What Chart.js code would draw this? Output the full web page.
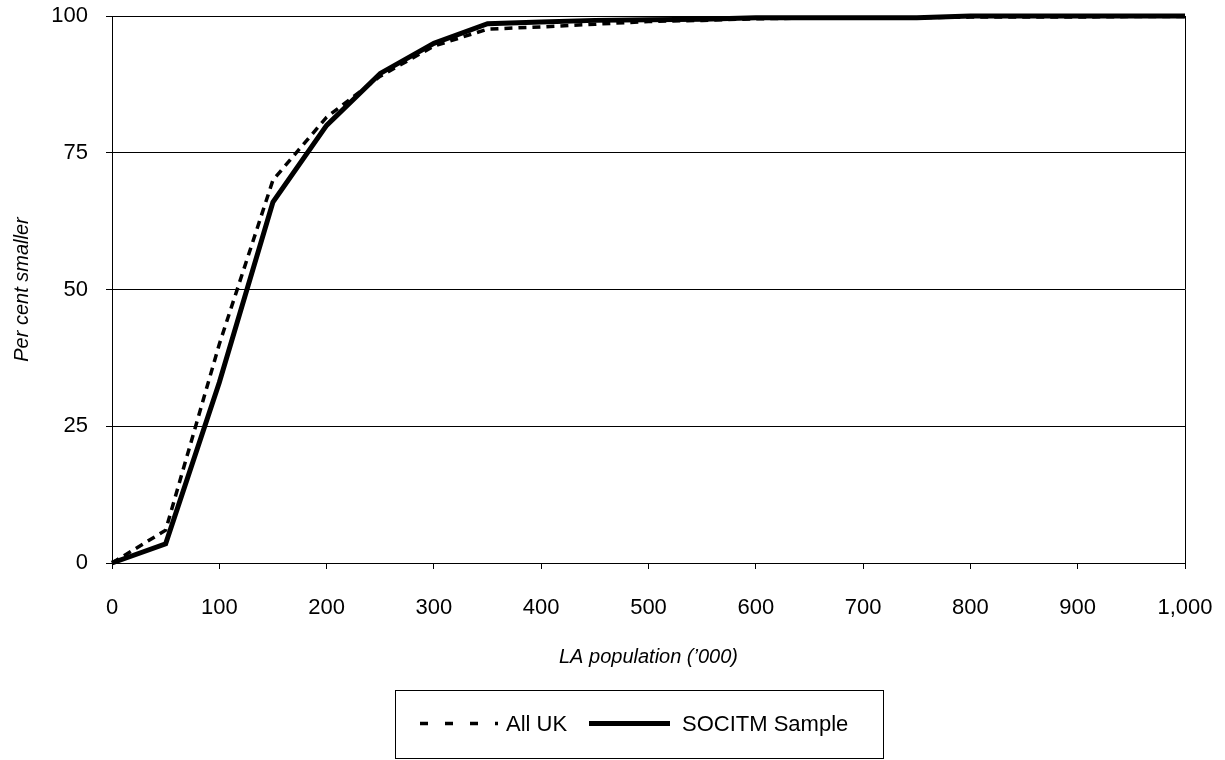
<!DOCTYPE html>
<html>
<head>
<meta charset="utf-8">
<script src="https://cdn.jsdelivr.net/npm/chart.js@4"></script>
<style>html,body{margin:0;padding:0;background:#fff;}</style>
</head>
<body>
<canvas id="c" width="1225" height="760"></canvas>
<script>
// LA population ('000)
const populations = [0, 50, 100, 150, 200, 250, 300, 350, 400, 450, 500, 550, 600, 650, 700, 750, 800, 850, 900, 950, 1000];
// Per cent smaller – All UK
const allUK = [0, 6, 40, 70, 81.5, 89, 94.5, 97.6, 98, 98.5, 99, 99.2, 99.5, 99.6, 99.7, 99.7, 99.8, 99.8, 99.8, 99.9, 99.9];
// Per cent smaller – SOCITM Sample
const socitm = [0, 3.5, 33, 66, 80, 89.5, 95, 98.6, 98.9, 99.2, 99.3, 99.4, 99.7, 99.7, 99.7, 99.7, 100, 100, 100, 100, 100];
// Tick labels
const xTickValues = [0, 100, 200, 300, 400, 500, 600, 700, 800, 900, 1000];
const yTickValues = [0, 25, 50, 75, 100];
const seriesNames = ['All UK', 'SOCITM Sample'];

const FONT = '"Liberation Sans", Arial, sans-serif';

const boxLegend = {
  id: 'boxLegend',
  afterDraw(chart) {
    const ctx = chart.ctx;
    const ds = chart.data.datasets;
    const a = chart.chartArea;
    ctx.save();
    // right edge of plot area
    ctx.strokeStyle = '#000';
    ctx.lineWidth = 1;
    ctx.beginPath();
    ctx.moveTo(Math.round(a.right) + 0.5, a.top);
    ctx.lineTo(Math.round(a.right) + 0.5, a.bottom);
    ctx.stroke();
    // legend box
    ctx.strokeRect(395.5, 690.5, 488, 68);
    const y = 723.5;
    const items = [
      {x0: 420, x1: 498, tx: 506, d: ds[0], dash: [8, 17]},
      {x0: 589, x1: 670, tx: 682, d: ds[1], dash: []}
    ];
    ctx.font = '22px ' + FONT;
    ctx.textBaseline = 'middle';
    ctx.textAlign = 'left';
    items.forEach(it => {
      ctx.beginPath();
      ctx.setLineDash(it.dash);
      ctx.lineWidth = it.d.borderWidth;
      ctx.strokeStyle = it.d.borderColor;
      ctx.moveTo(it.x0, y);
      ctx.lineTo(it.x1, y);
      ctx.stroke();
      ctx.setLineDash([]);
      ctx.fillStyle = '#000';
      ctx.fillText(it.d.label, it.tx, y + 1);
    });
    ctx.restore();
  }
};

new Chart(document.getElementById('c'), {
  type: 'line',
  data: {
    datasets: [
      {
        label: seriesNames[0],
        data: populations.map((p, i) => ({x: p, y: allUK[i]})),
        borderColor: '#000',
        borderWidth: 3.5,
        borderDash: [8, 6],
        pointRadius: 0,
        tension: 0,
        fill: false,
        clip: false,
        order: 1
      },
      {
        label: seriesNames[1],
        data: populations.map((p, i) => ({x: p, y: socitm[i]})),
        borderColor: '#000',
        borderWidth: 5,
        pointRadius: 0,
        tension: 0,
        fill: false,
        clip: false,
        order: 0
      }
    ]
  },
  options: {
    responsive: false,
    animation: false,
    events: [],
    layout: {padding: {top: 16, left: 0, right: 40, bottom: 80}},
    plugins: {legend: {display: false}, tooltip: {enabled: false}},
    scales: {
      x: {
        type: 'linear',
        min: 0, max: 1000,
        afterBuildTicks: s => { s.ticks = xTickValues.map(v => ({value: v})); },
        afterFit: s => { s.height = 117; s.paddingLeft = 0; s.paddingRight = 0; },
        ticks: {
          color: '#000', font: {family: FONT, size: 22}, padding: 26, maxRotation: 0,
          callback: v => Number(v).toLocaleString('en-US')
        },
        grid: {drawOnChartArea: false, drawTicks: true, tickLength: 6, color: '#000', lineWidth: 1},
        border: {display: true, color: '#000', width: 1},
        title: {display: true, text: "LA population (\u2019000)", color: '#000',
          font: {family: FONT, size: 20, style: 'italic'}, padding: {top: 24, bottom: 11}}
      },
      y: {
        type: 'linear',
        min: 0, max: 100,
        afterBuildTicks: s => { s.ticks = yTickValues.map(v => ({value: v})); },
        afterFit: s => { s.width = 112; s.paddingTop = 0; s.paddingBottom = 0; },
        ticks: {color: '#000', font: {family: FONT, size: 22}, padding: 18},
        grid: {drawOnChartArea: true, drawTicks: true, tickLength: 6, color: '#000', lineWidth: 1},
        border: {display: true, color: '#000', width: 1},
        title: {display: true, text: 'Per cent smaller', color: '#000',
          font: {family: FONT, size: 20, style: 'italic'}, padding: {top: 10, bottom: 0}}
      }
    }
  },
  plugins: [boxLegend]
});
</script>
</body>
</html>
